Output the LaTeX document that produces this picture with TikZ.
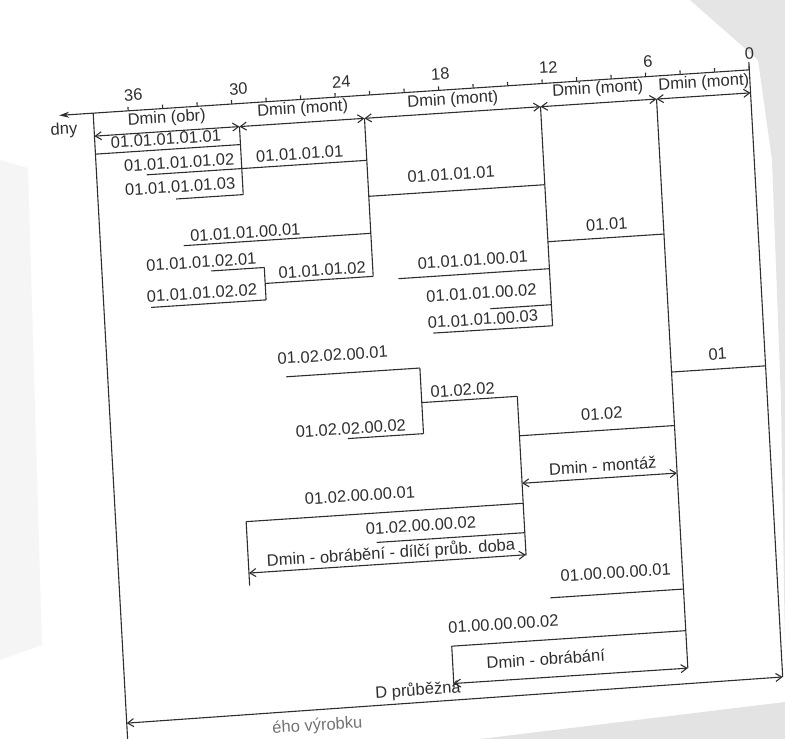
\documentclass[tikz,border=0pt]{standalone}
\usepackage{fontspec}
\setmainfont{Liberation Sans}
\usetikzlibrary{arrows.meta}
\begin{document}
\begin{tikzpicture}[x=1pt,y=-1pt,
  ln/.style={line width=1.1pt, draw=black!82},
  dim/.style={ln, {Straight Barb[length=6pt,width=8pt]}-{Straight Barb[length=6pt,width=8pt]}},
  lbl/.style={font=\fontsize{16.5}{18}\selectfont, text=black!82, inner sep=0pt, transform shape},
  tick/.style={ln}]
\useasboundingbox (0,0) rectangle (785,739);
\clip (0,0) rectangle (785,739);
% scan background
\fill[black!10] (690,0) -- (785,0) -- (785,650) -- (781,400) -- (772,160) -- (758,60) -- cycle;
\fill[black!11] (480,739) -- (785,702) -- (785,739) -- cycle;
\fill[black!4] (0,160) -- (28,168) -- (42,645) -- (0,660) -- cycle;
\begin{scope}[cm={1,0.066,-0.055,1,(-22pt,-26.4pt)}]
% named structural points
\coordinate (Ltop) at (110,94);
\coordinate (Lbot) at (110,780);
\coordinate (V30t) at (255,117);
\coordinate (V30b) at (255,185);
\coordinate (V22t) at (380,117);
\coordinate (V22b) at (380,275);
\coordinate (V12t) at (556,117);
\coordinate (V12b) at (556,336);
\coordinate (V6t) at (672,117);
\coordinate (V6b) at (672,686);
\coordinate (V0t) at (766,86);
\coordinate (V0b) at (766,701);
\coordinate (axL) at (76,94);
\coordinate (axR) at (766,94);
% axis
\draw[ln, {Stealth[length=10pt,width=6pt]}-] (axL) -- (axR);
\foreach \d in {0,2,...,36} \draw[tick] ({145+17.25*(36-\d)},94) -- ++(0,-4);
\node[lbl] (dny) at (80,109) {dny};
\node[lbl] (t36) at (151,78.5) {36};
\node[lbl] (t30) at (256,79.5) {30};
\node[lbl] (t24) at (359,79) {24};
\node[lbl] (t18) at (458,78) {18};
\node[lbl] (t12) at (566,78.5) {12};
\node[lbl] (t6) at (665.5,79) {6};
\node[lbl] (t0) at (767,78) {0};
% verticals
\draw[ln] (Ltop) -- (Lbot);
\draw[ln] (V30t) -- (V30b);
\draw[ln] (V22t) -- (V22b);
\draw[ln] (V12t) -- (V12b);
\draw[ln] (V6t) -- (V6b);
\draw[ln] (V0t) -- (V0b);
% top dimension row
\coordinate (La) at (110,117);
\coordinate (V0a) at (766,117);
\draw[dim] (La) -- (V30t);
\draw[dim] (V30t) -- (V22t);
\draw[dim] (V22t) -- (V12t);
\draw[dim] (V12t) -- (V6t);
\draw[dim] (V6t) -- (V0a);
\node[lbl] (d1) at (183,104.5) {Dmin (obr)};
\node[lbl] (d2) at (319,104) {Dmin (mont)};
\node[lbl] (d3) at (469,105) {Dmin (mont)};
\node[lbl] (d4) at (614,103.5) {Dmin (mont)};
\node[lbl] (d5) at (720,104.5) {Dmin (mont)};
% group A
\node[lbl] (a1) at (181,124.5) {01.01.01.01.01};
\draw[ln] (110,135) -- (255,135);
\node[lbl] (a2) at (193,149) {01.01.01.01.02};
\draw[ln] (160,159) -- (380,159);
\node[lbl] (a3) at (192.7,173) {01.01.01.01.03};
\draw[ln] (188,185) -- (V30b);
\node[lbl] (a4) at (313.5,148) {01.01.01.01};
% group B
\node[lbl] (b1) at (255,223) {01.01.01.00.01};
\draw[ln] (193,232) -- (380,232);
\node[lbl] (b2) at (209.6,249.4) {01.01.01.02.01};
\coordinate (Bt) at (272,259);
\coordinate (Bb) at (272,291.4);
\draw[ln] (219,259) -- (Bt);
\draw[ln] (Bt) -- (Bb);
\node[lbl] (b3) at (329.6,265.4) {01.01.01.02};
\draw[ln] (272,275) -- (V22b);
\node[lbl] (b4) at (208.4,280.5) {01.01.01.02.02};
\draw[ln] (157,291.4) -- (Bb);
% group C
\node[lbl] (c1) at (463.4,178.4) {01.01.01.01};
\draw[ln] (380,195) -- (556,195);
\node[lbl] (c2) at (615.6,238.6) {01.01};
\draw[ln] (556,252) -- (672,252);
\node[lbl] (c3) at (480.2,265.3) {01.01.01.00.01};
\draw[ln] (405,279) -- (556,279);
\node[lbl] (c4) at (487,298.8) {01.01.01.00.02};
\draw[ln] (495,315) -- (556,315);
\node[lbl] (c5) at (487,325) {01.01.01.00.03};
\draw[ln] (437,335.5) -- (V12b);
% group D
\node[lbl] (e1) at (719,375) {01};
\draw[ln] (672,390) -- (766,390);
% group E
\node[lbl] (f1) at (335.4,351) {01.02.02.00.01};
\coordinate (Et) at (421.5,369.4);
\coordinate (Eb) at (421.5,435);
\draw[ln] (288,369.4) -- (Et);
\draw[ln] (Et) -- (Eb);
\node[lbl] (f2) at (463,394) {01.02.02};
\coordinate (Ft) at (517,404);
\coordinate (Fb) at (517,563);
\draw[ln] (421.5,404) -- (Ft);
\draw[ln] (Ft) -- (Fb);
\node[lbl] (f3) at (349.4,425.3) {01.02.02.00.02};
\draw[ln] (346,435) -- (Eb);
\node[lbl] (f4) at (600.3,426.8) {01.02};
\draw[ln] (517,443.5) -- (672,443.5);
\node[lbl] (f5) at (598.4,478.8) {Dmin - montáž};
\draw[dim] (517,491) -- (672,491);
\node[lbl] (f6) at (354.8,492.4) {01.02.00.00.01};
\coordinate (Gt) at (240,511);
\coordinate (Gb) at (240,575);
\draw[ln] (Gt) -- (517,511);
\draw[ln] (Gt) -- (Gb);
\node[lbl] (f7) at (414,526.4) {01.02.00.00.02};
\draw[ln] (369,540.4) -- (517,540.4);
\node[lbl] (f8) at (382.6,552.4) {Dmin - obrábění - dílčí průb. doba};
\draw[dim] (240,562.5) -- (517,562.5);
% group F
\node[lbl] (g1) at (605.5,586) {01.00.00.00.01};
\draw[ln] (539,607) -- (672,607);
\node[lbl] (g2) at (490.7,630) {01.00.00.00.02};
\coordinate (Ht) at (438,648.6);
\coordinate (Hb) at (438,690);
\draw[ln] (Ht) -- (672,648.6);
\draw[ln] (Ht) -- (Hb);
\node[lbl] (g3) at (531,667.6) {Dmin - obrábání};
\draw[dim] (438,686) -- (V6b);
\node[lbl] (g4) at (402,690.5) {D průběžná};
\draw[dim] (110,704) -- (V0b);
\node[lbl, anchor=base east, text=black!55] (g5) at (345,724) {ého výrobku};
\end{scope}
\end{tikzpicture}
\end{document}
